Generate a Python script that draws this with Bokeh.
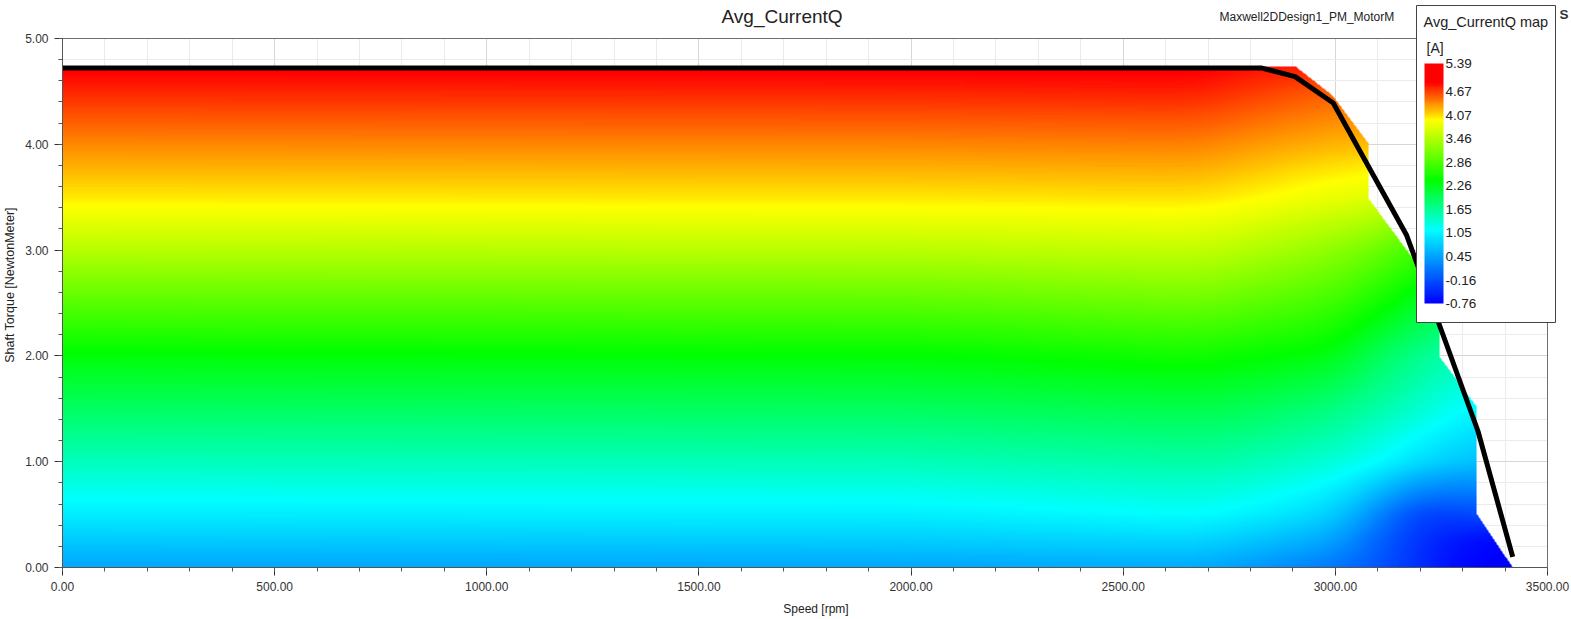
import numpy as np
from bokeh.plotting import figure
from bokeh.models import (LinearColorMapper, ColorBar, FixedTicker, PrintfTickFormatter,
                          SingleIntervalTicker, Label, Range1d, BoxAnnotation, AllLabels)
from bokeh.embed import file_html
from bokeh.resources import INLINE

# ---------------- data ----------------
# Avg_CurrentQ [A] sampled on a coarse (speed, torque) grid
grid_speed = [0, 2000, 2680, 2800, 3000, 3100, 3200, 3300, 3420]
grid_torque = [0.0, 0.25, 0.5, 1.0, 1.5, 2.0, 2.5, 3.0, 3.5, 4.0, 4.5, 4.8]
iq_0000 = [0.46, 0.73, 0.99, 1.46, 1.91, 2.36, 2.92, 3.49, 4.02, 4.39, 4.77, 5.00]
iq_2000 = [0.47, 0.75, 1.01, 1.48, 1.93, 2.38, 2.94, 3.51, 4.03, 4.40, 4.78, 5.00]
iq_2680 = [0.50, 0.82, 1.13, 1.58, 2.03, 2.50, 3.05, 3.57, 4.05, 4.42, 4.80, 5.00]
iq_2800 = [0.38, 0.70, 1.03, 1.51, 1.96, 2.42, 2.95, 3.47, 3.97, 4.33, 4.70, 4.90]
iq_3000 = [0.12, 0.47, 0.80, 1.32, 1.78, 2.32, 2.78, 3.25, 3.80, 4.22, 4.55, 4.85]
iq_3100 = [-0.12, -0.05, 0.25, 1.14, 1.55, 1.93, 2.50, 3.05, 3.78, 4.19, 4.55, 4.80]
iq_3200 = [-0.42, -0.40, -0.35, 0.85, 1.38, 1.70, 2.20, 2.75, 3.50, 4.10, 4.50, 4.70]
iq_3300 = [-0.76, -0.65, -0.25, 0.70, 1.10, 1.45, 1.95, 2.50, 3.30, 4.00, 4.40, 4.60]
iq_3420 = [-0.76, -0.76, -0.15, 0.60, 1.00, 1.35, 1.80, 2.35, 3.10, 3.90, 4.30, 4.50]
iq_columns = [iq_0000, iq_2000, iq_2680, iq_2800, iq_3000, iq_3100, iq_3200, iq_3300, iq_3420]

# outline of the mapped region (max speed for each torque)
edge_torque = [0.0, 0.51, 1.52, 1.99, 2.58, 3.49, 4.01, 4.46, 4.74]
edge_speed = [3418, 3333, 3333, 3246, 3246, 3078, 3078, 2994, 2905]
edge_top_torque = 4.74

# black torque-speed limit curve
curve_speed = [0, 2827, 2905, 2995, 3168, 3250, 3336, 3418]
curve_torque = [4.72, 4.72, 4.64, 4.39, 3.14, 2.24, 1.29, 0.10]

# colour bar
cbar_low, cbar_high = -0.76, 5.39
cbar_ticks = [5.39, 4.67, 4.07, 3.46, 2.86, 2.26, 1.65, 1.05, 0.45, -0.16, -0.76]
# palette anchor values: blue, cyan, green, yellow, red, red
cmap_values = [-0.76, 1.12, 2.40, 3.94, 4.92, 5.39]
cmap_r = [0, 0, 0, 255, 255, 255]
cmap_g = [0, 255, 255, 255, 0, 0]
cmap_b = [255, 255, 0, 0, 0, 0]

x_start, x_end = 0, 3500
y_start, y_end = 0, 5

# ---------------- layout (pixels) ----------------
W, H = 1571, 619
FRAME_L, AXIS_R, FRAME_R = 61, 1547, 1569
FRAME_T, AXIS_T, FRAME_B = 2, 38, 567
x_frame_end = x_end + (FRAME_R - AXIS_R) * (x_end - x_start) / (AXIS_R - FRAME_L)
y_frame_top = y_end + (AXIS_T - FRAME_T) * (y_end - y_start) / (FRAME_B - AXIS_T)


def fx(px):  # canvas px -> frame screen x
    return px - FRAME_L


def fy(py):  # canvas px (from top) -> frame screen y (from bottom)
    return FRAME_B - py


# ---------------- field raster (shaded like a smooth contour map) ----------------
nx, ny = 1486, 529
S = (np.arange(nx) + 0.5) * (x_end - x_start) / nx + x_start
T = (np.arange(ny) + 0.5) * (y_end - y_start) / ny + y_start
cols = np.array([np.interp(T, grid_torque, c) for c in iq_columns])  # (ns, ny)
field = np.empty((ny, nx), dtype=np.float64)
for i in range(ny):
    field[i, :] = np.interp(S, grid_speed, cols[:, i])


def _blur(a, sigma, axis):
    r = int(3 * sigma)
    k = np.exp(-0.5 * (np.arange(-r, r + 1) / sigma) ** 2)
    k /= k.sum()
    a = np.moveaxis(a, axis, -1)
    pad = np.concatenate([np.repeat(a[..., :1], r, axis=-1), a,
                          np.repeat(a[..., -1:], r, axis=-1)], axis=-1)
    out = np.empty_like(a)
    for idx in range(a.shape[0]):
        out[idx] = np.convolve(pad[idx], k, mode="valid")
    return np.moveaxis(out, -1, axis)


field = _blur(field, 22, 1)
field = _blur(field, 5, 0)
field = field.astype(np.float32)

smax = np.interp(T, edge_torque, edge_speed)
mask = (S[None, :] > smax[:, None]) | (T[:, None] > edge_top_torque)
field[mask] = np.nan

palette = []
for k in range(256):
    v = cbar_low + (cbar_high - cbar_low) * k / 255
    palette.append("#%02x%02x%02x" % (int(round(np.interp(v, cmap_values, cmap_r))),
                                      int(round(np.interp(v, cmap_values, cmap_g))),
                                      int(round(np.interp(v, cmap_values, cmap_b)))))

mapper = LinearColorMapper(palette=palette, low=cbar_low, high=cbar_high,
                           nan_color=(0, 0, 0, 0))

FONT = "Liberation Sans"

p = figure(width=W, height=H, x_range=Range1d(x_start, x_frame_end),
           y_range=Range1d(y_start, y_frame_top),
           output_backend="svg", toolbar_location=None, title=None,
           min_border_left=FRAME_L, min_border_right=W - FRAME_R,
           min_border_top=FRAME_T, min_border_bottom=H - FRAME_B,
           background_fill_color="white", border_fill_color="white")
p.outline_line_color = None

xt = SingleIntervalTicker(interval=500, num_minor_ticks=5)
yt = SingleIntervalTicker(interval=1, num_minor_ticks=5)
p.xaxis.ticker = xt
p.yaxis.ticker = yt
p.xgrid.ticker = xt
p.ygrid.ticker = yt
for g in (p.xgrid, p.ygrid):
    g.grid_line_color = "#d6d6d6"
    g.minor_grid_line_color = "#ebebeb"

for ax in (p.xaxis, p.yaxis):
    ax.formatter = PrintfTickFormatter(format="%.2f")
    ax.major_label_text_font = FONT
    ax.major_label_text_font_size = "12px"
    ax.major_label_text_color = "#333333"
    ax.axis_label_text_font = FONT
    ax.axis_label_text_font_size = "12px"
    ax.axis_label_text_font_style = "normal"
    ax.axis_label_text_color = "#222222"
    ax.axis_line_color = "#555555"
    ax.major_tick_line_color = "#333333"
    ax.minor_tick_line_color = "#555555"
    ax.major_tick_in = 0
    ax.major_tick_out = 8
    ax.minor_tick_in = 0
    ax.minor_tick_out = 4
p.yaxis.axis_label_text_font_size = "12.5px"
p.xaxis.bounds = (x_start, x_end)
p.yaxis.bounds = (y_start, y_end)
p.xaxis.axis_label = "Speed [rpm]"
p.yaxis.axis_label = "Shaft Torque [NewtonMeter]"
p.xaxis.major_label_standoff = 6
p.yaxis.major_label_standoff = 6
p.xaxis.axis_label_standoff = 8
p.yaxis.axis_label_standoff = 5

# blank margin strips inside the frame (above y_end and right of x_end)
p.quad(left=[x_start, x_end], right=[x_frame_end, x_frame_end],
       bottom=[y_end, y_start], top=[y_frame_top, y_frame_top],
       fill_color="white", line_color=None)

p.image(image=[field], x=x_start, y=y_start, dw=x_end - x_start, dh=y_end - y_start,
        color_mapper=mapper)
p.line(curve_speed, curve_torque, line_color="black", line_width=5)

# plot-area border (top and right)
p.line([x_start, x_end, x_end], [y_end, y_end, y_start], line_color="#707070", line_width=1)

# header texts
p.add_layout(Label(x=fx(720), y=fy(16), x_units="screen", y_units="screen",
                   text="Avg_CurrentQ", text_font=FONT, text_font_size="19px",
                   text_color="#222222", text_baseline="middle"))
p.add_layout(Label(x=fx(1218), y=fy(16), x_units="screen", y_units="screen",
                   text="Maxwell2DDesign1_PM_MotorM", text_font=FONT, text_font_size="12px",
                   text_color="#222222", text_baseline="middle"))
p.add_layout(Label(x=fx(1558), y=fy(14), x_units="screen", y_units="screen",
                   text="S", text_font=FONT, text_font_size="13.5px", text_font_style="bold",
                   text_color="#333333", text_baseline="middle"))

# legend box
p.add_layout(BoxAnnotation(left=fx(1415), right=fx(1554), top=fy(5), bottom=fy(322),
                           left_units="screen", right_units="screen",
                           top_units="screen", bottom_units="screen",
                           fill_color="white", fill_alpha=1.0,
                           line_color="#444444", line_width=1, line_alpha=1.0))
p.add_layout(Label(x=fx(1422), y=fy(21), x_units="screen", y_units="screen",
                   text="Avg_CurrentQ map", text_font=FONT, text_font_size="14.5px",
                   text_color="#222222", text_baseline="middle"))
p.add_layout(Label(x=fx(1425), y=fy(47), x_units="screen", y_units="screen",
                   text="[A]", text_font=FONT, text_font_size="14px",
                   text_color="#222222", text_baseline="middle"))

cb = ColorBar(color_mapper=mapper, ticker=FixedTicker(ticks=cbar_ticks),
              formatter=PrintfTickFormatter(format="%.2f"),
              major_label_policy=AllLabels(),
              width=19, height=240, location=(fx(1423), fy(303)),
              major_label_text_font=FONT, major_label_text_font_size="13.5px",
              major_label_text_color="#222222",
              major_tick_line_color=None, minor_tick_line_color=None, bar_line_color=None,
              border_line_color=None, background_fill_color=None,
              padding=0, margin=0, label_standoff=2)
p.add_layout(cb, "center")

open("out.html", "w").write(file_html(p, INLINE))
